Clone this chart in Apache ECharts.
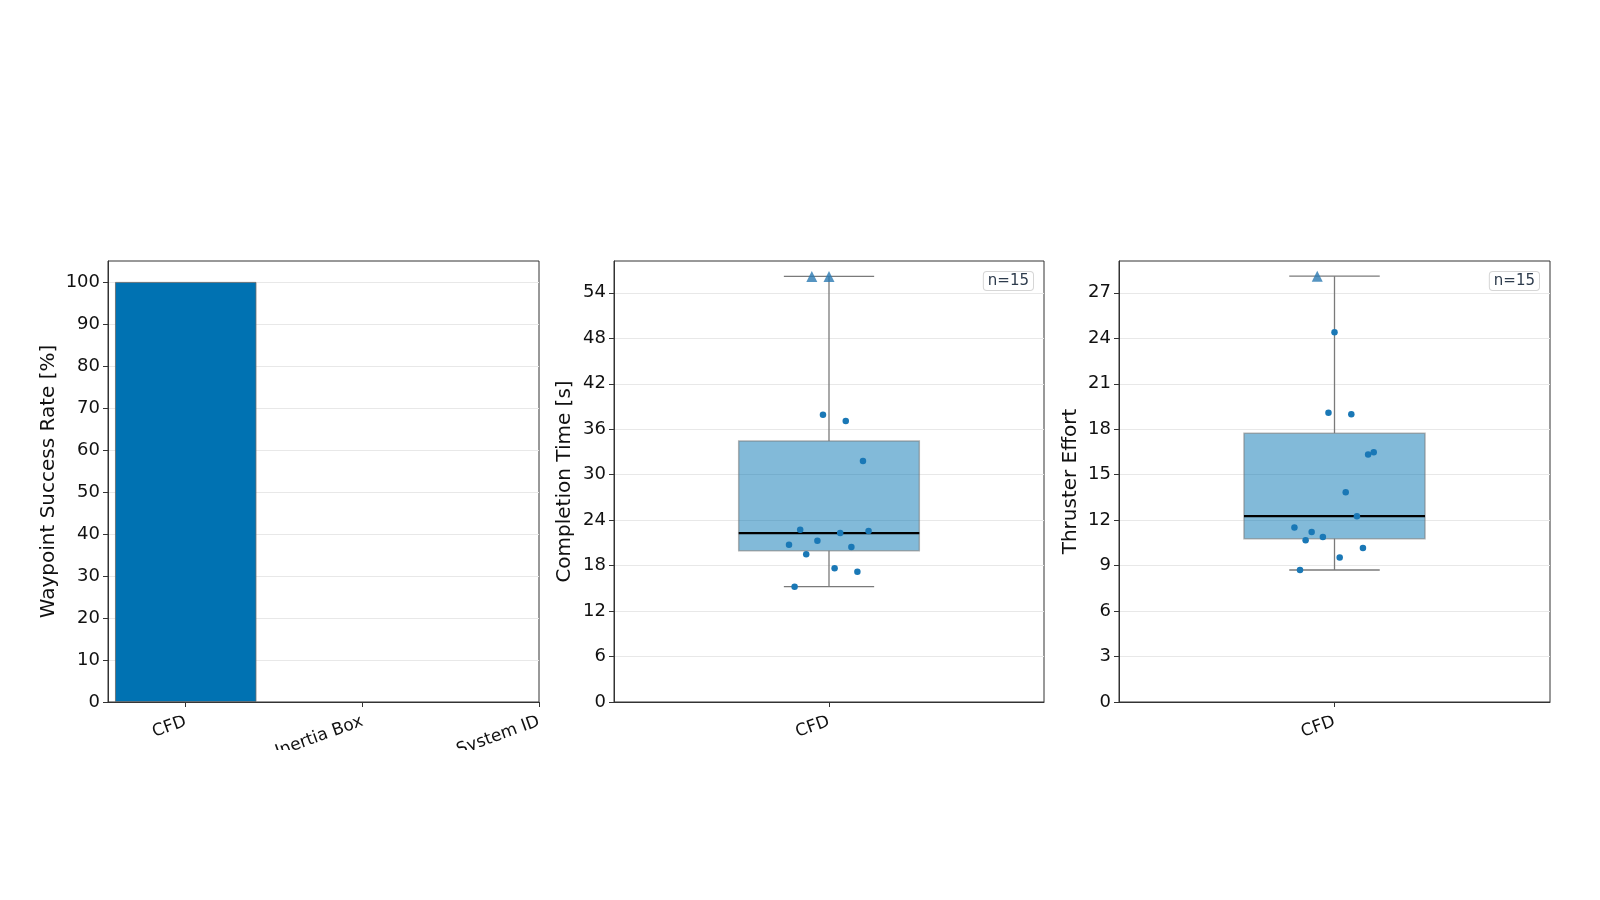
<!DOCTYPE html>
<html>
<head>
<meta charset="utf-8">
<title>Waypoint runs</title>
<script src="https://cdn.jsdelivr.net/npm/echarts@6/dist/echarts.min.js"></script>
<style>
  html, body { margin: 0; padding: 0; background: #fff; }
  #main { width: 1600px; height: 750px; }
</style>
</head>
<body>
<div id="main"></div>
<script>
// success rate per model
const methods = ['CFD', 'Inertia Box', 'System ID'];
const successRate = [100, 0, 0];
const successTicks = [0, 10, 20, 30, 40, 50, 60, 70, 80, 90, 100];

// completion time (CFD runs). x = jittered position around the box
const timeX = [0.986, 1.039, 1.079, 0.933, 1.026, 1.092, 0.907, 0.973, 1.052, 0.947, 1.013, 1.066, 0.920];
const timeY = [37.9, 37.07, 31.8, 22.74, 22.3, 22.56, 20.76, 21.29, 20.45, 19.49, 17.64, 17.2, 15.22];
const timeCapX = [0.960, 1.0];
const timeCapY = [56.16, 56.16];
// whisker low, q1, median, q3, whisker high
const timeBox = [15.22, 19.97, 22.3, 34.43, 56.16];
const timeTicks = [0, 6, 12, 18, 24, 30, 36, 42, 48, 54];

// thruster effort (CFD runs)
const effortX = [1.0, 0.986, 1.039, 1.078, 1.091, 1.026, 1.052, 0.907, 0.947, 0.933, 0.973, 1.066, 1.012, 0.920];
const effortY = [24.4, 19.08, 18.99, 16.33, 16.48, 13.84, 12.26, 11.51, 11.22, 10.67, 10.89, 10.16, 9.53, 8.71];
const effortCapX = [0.960];
const effortCapY = [28.1];
const effortBox = [8.71, 10.78, 12.26, 17.74, 28.1];
const effortTicks = [0, 3, 6, 9, 12, 15, 18, 21, 24, 27];

const nLabel = 'n=15';

const FONT = 'DejaVu Sans';
const DOT = '#1a78b6';

// panel layout (px)
const panels = [
  {left: 108, width: 431},
  {left: 614, width: 430},
  {left: 1119, width: 431}
];
const TOP = 261, HEIGHT = 441;

let zip = (xs, ys) => xs.map((x, i) => [x, ys[i]]);

function yAxis(idx, ticks, max, name, gap) {
  return {
    type: 'value', gridIndex: idx, min: 0, max: max,
    name: name, nameLocation: 'middle', nameGap: gap, nameRotate: 90,
    nameTextStyle: {fontFamily: FONT, fontSize: 20, color: '#111'},
    axisLine: {show: true, onZero: false, lineStyle: {color: '#333', width: 1}},
    axisTick: {show: true, inside: false, length: 5, customValues: ticks, lineStyle: {color: '#333'}},
    axisLabel: {customValues: ticks, fontFamily: FONT, fontSize: 18, color: '#111', margin: 8},
    splitLine: {show: true, lineStyle: {color: '#e8e8e8', width: 1}}
  };
}

function xAxis(idx, min, max, ticks, names) {
  return {
    type: 'value', gridIndex: idx, min: min, max: max,
    axisLine: {show: true, onZero: false, lineStyle: {color: '#333', width: 1}},
    axisTick: {show: true, inside: false, length: 5, customValues: ticks, lineStyle: {color: '#333'}},
    axisLabel: {
      customValues: ticks, rotate: 20, margin: 19,
      fontFamily: FONT, fontSize: 17, color: '#111',
      formatter: (v) => names[Math.round(v - ticks[0])]
    },
    splitLine: {show: false}
  };
}

function boxRender(params, api) {
  const x = api.value(0);
  const lo = api.coord([x, api.value(1)]);
  const q1 = api.coord([x, api.value(2)]);
  const med = api.coord([x, api.value(3)]);
  const q3 = api.coord([x, api.value(4)]);
  const hi = api.coord([x, api.value(5)]);
  const boxW = api.size([0.42, 0])[0];
  const capW = api.size([0.21, 0])[0];
  const wStyle = {stroke: '#7a7a7a', lineWidth: 1.3};
  return {
    type: 'group',
    children: [
      {type: 'line', shape: {x1: lo[0], y1: lo[1], x2: q1[0], y2: q1[1]}, style: wStyle},
      {type: 'line', shape: {x1: q3[0], y1: q3[1], x2: hi[0], y2: hi[1]}, style: wStyle},
      {type: 'line', shape: {x1: lo[0] - capW / 2, y1: lo[1], x2: lo[0] + capW / 2, y2: lo[1]}, style: wStyle},
      {type: 'line', shape: {x1: hi[0] - capW / 2, y1: hi[1], x2: hi[0] + capW / 2, y2: hi[1]}, style: wStyle},
      {
        type: 'rect',
        shape: {x: q3[0] - boxW / 2, y: q3[1], width: boxW, height: q1[1] - q3[1]},
        style: {fill: 'rgba(0,114,178,0.49)', stroke: 'rgba(120,120,120,0.55)', lineWidth: 1.5}
      },
      {type: 'line', shape: {x1: med[0] - boxW / 2, y1: med[1], x2: med[0] + boxW / 2, y2: med[1]}, style: {stroke: '#000', lineWidth: 2.2}}
    ]
  };
}

function nBox(p) {
  return {
    type: 'text',
    right: 1600 - (p.left + p.width) + 10,
    top: TOP + 10,
    z: 10,
    style: {
      text: nLabel, fontFamily: FONT, fontSize: 15, fill: '#2d3b4c',
      backgroundColor: '#fff', borderColor: '#d6d6d6', borderWidth: 1, borderRadius: 3,
      padding: [2, 4, 1, 4]
    }
  };
}

const mainChart = echarts.init(document.getElementById('main'), null, {renderer: 'canvas'});
const barW = 0.8 * panels[0].width / (2.0 - (-0.44));

mainChart.setOption({
  backgroundColor: '#fff',
  animation: false,
  grid: panels.map(p => ({
    left: p.left, top: TOP, width: p.width, height: HEIGHT,
    containLabel: false, outerBoundsMode: 'none',
    show: true, borderColor: '#333', borderWidth: 1, backgroundColor: 'transparent'
  })),
  xAxis: [
    xAxis(0, -0.44, 2.0, [0, 1, 2], methods),
    xAxis(1, 0.5, 1.5, [1], ['CFD']),
    xAxis(2, 0.5, 1.5, [1], ['CFD'])
  ],
  yAxis: [
    yAxis(0, successTicks, 105, 'Waypoint Success Rate [%]', 49),
    yAxis(1, timeTicks, 58.2, 'Completion Time [s]', 39),
    yAxis(2, effortTicks, 29.1, 'Thruster Effort', 38)
  ],
  series: [
    {
      type: 'bar', xAxisIndex: 0, yAxisIndex: 0,
      barWidth: barW, clip: true,
      // zero-height bars get no edge
      data: successRate.map((v, i) => ({value: [i, v], itemStyle: v ? {} : {borderWidth: 0}})),
      itemStyle: {color: '#0072B2', borderColor: '#666', borderWidth: 0.8}
    },
    {
      type: 'custom', xAxisIndex: 1, yAxisIndex: 1,
      renderItem: boxRender,
      encode: {x: 0, y: [1, 2, 3, 4, 5]},
      data: [[1].concat(timeBox)], z: 2
    },
    {
      type: 'scatter', xAxisIndex: 1, yAxisIndex: 1,
      symbolSize: 6.5, itemStyle: {color: DOT, opacity: 1},
      data: zip(timeX, timeY), z: 5
    },
    {
      type: 'scatter', xAxisIndex: 1, yAxisIndex: 1,
      symbol: 'triangle', symbolSize: 11, itemStyle: {color: '#2a79b2'},
      data: zip(timeCapX, timeCapY), z: 5
    },
    {
      type: 'custom', xAxisIndex: 2, yAxisIndex: 2,
      renderItem: boxRender,
      encode: {x: 0, y: [1, 2, 3, 4, 5]},
      data: [[1].concat(effortBox)], z: 2
    },
    {
      type: 'scatter', xAxisIndex: 2, yAxisIndex: 2,
      symbolSize: 6.5, itemStyle: {color: DOT, opacity: 1},
      data: zip(effortX, effortY), z: 5
    },
    {
      type: 'scatter', xAxisIndex: 2, yAxisIndex: 2,
      symbol: 'triangle', symbolSize: 11, itemStyle: {color: '#2a79b2'},
      data: zip(effortCapX, effortCapY), z: 5
    }
  ],
  graphic: [nBox(panels[1]), nBox(panels[2])]
});
</script>
</body>
</html>
